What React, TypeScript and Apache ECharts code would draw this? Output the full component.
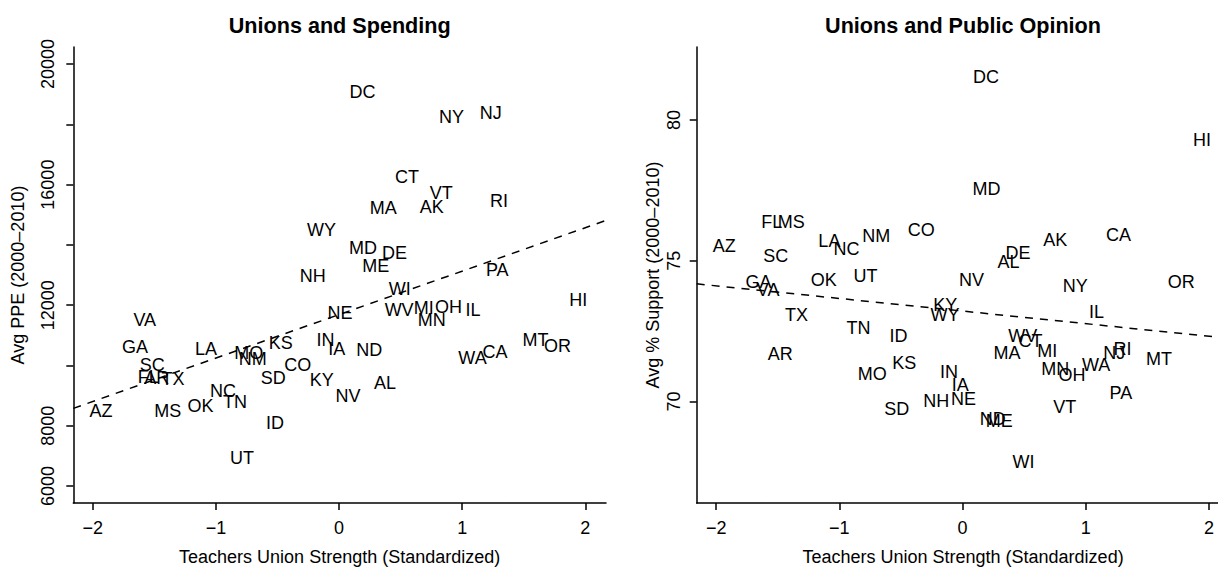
import { useEffect, useRef } from 'react';
import * as echarts from 'echarts';

const states = ['AK','AL','AR','AZ','CA','CO','CT','DC','DE','FL','GA','HI','IA','ID','IL','IN','KS','KY','LA','MA','MD','ME','MI','MN','MO','MS','MT','NC','ND','NE','NH','NJ','NM','NV','NY','OH','OK','OR','PA','RI','SC','SD','TN','TX','UT','VA','VT','WA','WI','WV','WY'];

const unionStrength = [0.753,0.373,-1.48,-1.934,1.266,-0.335,0.552,0.191,0.45,-1.549,-1.656,1.943,-0.019,-0.52,1.088,-0.11,-0.474,-0.141,-1.081,0.36,0.194,0.298,0.688,0.752,-0.733,-1.39,1.595,-0.942,0.245,0.008,-0.214,1.232,-0.7,0.072,0.914,0.888,-1.126,1.774,1.285,1.299,-1.517,-0.534,-0.845,-1.348,-0.787,-1.578,0.83,1.084,0.494,0.488,-0.143];

const ppe = [15256,9430,9593,8502,10436,10000,16262,19069,13715,9626,10600,12184,10544,8098,11856,10852,10741,9518,10544,15223,13889,13311,11921,11508,10413,8502,10830,9157,10502,11725,12961,18393,10230,8970,18230,11944,8666,10633,13180,15443,10000,9574,8774,9561,6918,11508,15715,10249,12525,11836,14479];

const support = [75.74,74.96,71.7,75.53,75.93,76.09,72.13,81.52,75.26,76.37,74.24,79.3,70.58,72.33,73.18,71.04,71.35,73.42,75.7,71.72,77.54,69.29,71.78,71.14,70.96,76.37,71.49,75.41,69.38,70.08,70.02,71.72,75.88,74.3,74.09,70.93,74.33,74.24,70.29,71.86,75.18,69.73,72.62,73.07,74.47,73.95,69.79,71.31,67.84,72.33,73.07];

// regression fits: [intercept, slope]
const spendingFit = [11688, 1441.6];
const supportFit = [73.211, -0.4482];

const xTicks = [-2, -1, 0, 1, 2];
const ppeTicks = [6000, 8000, 10000, 12000, 14000, 16000, 18000, 20000];
const ppeTickLabels = [6000, 8000, 12000, 16000, 20000];
const supportTicks = [70, 75, 80];

const FONT = '"Liberation Sans", Arial, Helvetica, sans-serif';
const X_MIN = -2.158;
const X_MAX_L = 2.168;
const X_MAX_R = 2.0733;

function labelSeries(idx: number, ys: number[]) {
  return {
    type: 'custom',
    xAxisIndex: idx,
    yAxisIndex: idx,
    data: states.map((_s, i) => [unionStrength[i], ys[i]]),
    clip: false,
    silent: true,
    renderItem: (params: any, api: any) => {
      const p = api.coord([api.value(0), api.value(1)]);
      return {
        type: 'text',
        x: p[0],
        y: p[1],
        style: {
          text: states[params.dataIndex],
          font: '18px ' + FONT,
          fill: '#000',
          align: 'center',
          verticalAlign: 'middle',
          textAlign: 'center',
          textVerticalAlign: 'middle',
        },
      };
    },
  };
}

function fitSeries(idx: number, fit: number[], xmax: number) {
  return {
    type: 'line',
    xAxisIndex: idx,
    yAxisIndex: idx,
    data: [X_MIN, xmax].map((x) => [x, fit[0] + fit[1] * x]),
    symbol: 'none',
    silent: true,
    lineStyle: { color: '#000', width: 1.5, type: [8, 7] },
  };
}

const minus = (v: number) => (v < 0 ? '\u2212' + Math.abs(v) : String(v));

export default function App() {
  const ref = useRef<HTMLDivElement>(null);
  useEffect(() => {
    if (!ref.current) return;
    const chart = echarts.init(ref.current, undefined, { renderer: 'svg' });
    const axisLine = { show: true, onZero: false, lineStyle: { color: '#000', width: 1.5 } };
    const tickStyle = { color: '#000', width: 1.5 };
    const xAxisBase = (i: number) => ({
      type: 'value',
      gridIndex: i,
      min: X_MIN,
      max: i === 0 ? X_MAX_L : X_MAX_R,
      splitLine: { show: false },
      axisLine,
      axisTick: { show: true, customValues: xTicks, length: 7, lineStyle: tickStyle },
      axisLabel: { customValues: xTicks, fontSize: 18, fontFamily: FONT, color: '#000', margin: 16, formatter: minus },
      name: 'Teachers Union Strength (Standardized)',
      nameLocation: 'middle',
      nameGap: 45,
      nameTextStyle: {
        fontSize: 18,
        fontFamily: FONT,
        color: '#000',
        padding: i === 0 ? 0 : [0, 0, 0, 11.4],
      },
    });
    const nameStyle = { fontSize: 18, fontFamily: FONT, color: '#000' };
    chart.setOption({
      animation: false,
      backgroundColor: '#fff',
      grid: [
        { left: 73.3, top: 47, width: 532.7, height: 461.5 },
        { left: 696.7, top: 47, width: 521.3, height: 461.5 },
      ],
      xAxis: [xAxisBase(0), xAxisBase(1)],
      yAxis: [
        {
          type: 'value',
          gridIndex: 0,
          min: 5436,
          max: 20567,
          splitLine: { show: false },
          axisLine,
          axisTick: { show: true, customValues: ppeTicks, length: 7, lineStyle: tickStyle },
          axisLabel: { customValues: ppeTickLabels, rotate: 90, fontSize: 18, fontFamily: FONT, color: '#000', margin: 16, formatter: (v: number) => String(v) },
          name: 'Avg PPE (2000\u20132010)',
          nameLocation: 'middle',
          nameRotate: 90,
          nameGap: 46,
          nameTextStyle: nameStyle,
        },
        {
          type: 'value',
          gridIndex: 1,
          min: 66.39,
          max: 82.595,
          splitLine: { show: false },
          axisLine,
          axisTick: { show: true, customValues: supportTicks, length: 7, lineStyle: tickStyle },
          axisLabel: { customValues: supportTicks, rotate: 90, fontSize: 18, fontFamily: FONT, color: '#000', margin: 14, formatter: (v: number) => String(v) },
          name: 'Avg % Support (2000\u20132010)',
          nameLocation: 'middle',
          nameRotate: 90,
          nameGap: 35,
          nameTextStyle: nameStyle,
        },
      ],
      graphic: [
        {
          type: 'text',
          x: 339.7,
          y: 25,
          style: { text: 'Unions and Spending', font: 'bold 21.6px ' + FONT, fill: '#000', align: 'center', verticalAlign: 'middle', textAlign: 'center', textVerticalAlign: 'middle' },
        },
        {
          type: 'text',
          x: 963,
          y: 25,
          style: { text: 'Unions and Public Opinion', font: 'bold 21.6px ' + FONT, fill: '#000', align: 'center', verticalAlign: 'middle', textAlign: 'center', textVerticalAlign: 'middle' },
        },
      ],
      series: [
        labelSeries(0, ppe),
        fitSeries(0, spendingFit, X_MAX_L),
        labelSeries(1, support),
        fitSeries(1, supportFit, X_MAX_R),
      ],
    });
    return () => chart.dispose();
  }, []);
  return <div ref={ref} style={{ position: 'absolute', left: 0, top: 0, width: 1218, height: 571, overflow: 'hidden' }} />;
}
